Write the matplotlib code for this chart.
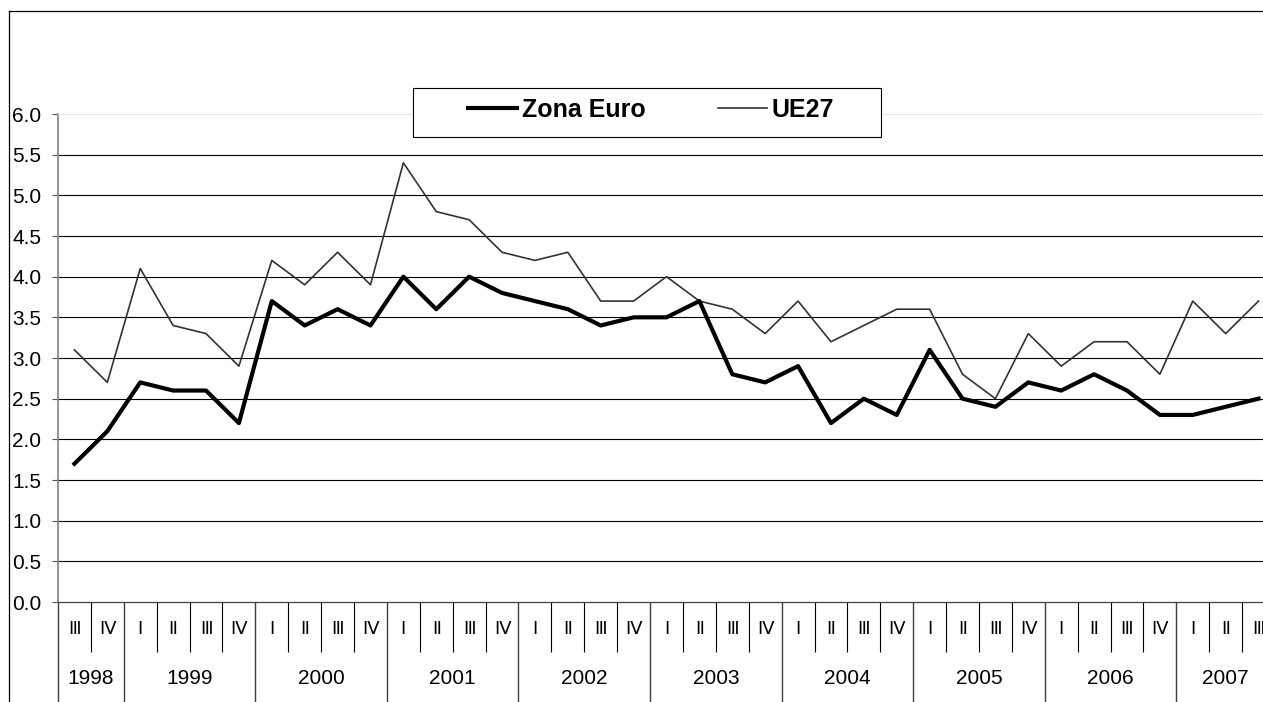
import numpy as np
import matplotlib
matplotlib.use("Agg")
import matplotlib.pyplot as plt
from matplotlib.lines import Line2D
from matplotlib.patches import Rectangle
import matplotlib.transforms as mtransforms

plt.rcParams['font.family'] = ['Liberation Sans', 'DejaVu Sans']

# dados (taxa de variação, %)
anos = ['1998', '1999', '2000', '2001', '2002', '2003', '2004', '2005', '2006', '2007']
n_trimestres = [2, 4, 4, 4, 4, 4, 4, 4, 4, 3]
trimestres = ['Ⅲ', 'Ⅳ',
              'Ⅰ', 'Ⅱ', 'Ⅲ', 'Ⅳ', 'Ⅰ', 'Ⅱ', 'Ⅲ', 'Ⅳ', 'Ⅰ', 'Ⅱ', 'Ⅲ', 'Ⅳ',
              'Ⅰ', 'Ⅱ', 'Ⅲ', 'Ⅳ', 'Ⅰ', 'Ⅱ', 'Ⅲ', 'Ⅳ', 'Ⅰ', 'Ⅱ', 'Ⅲ', 'Ⅳ',
              'Ⅰ', 'Ⅱ', 'Ⅲ', 'Ⅳ', 'Ⅰ', 'Ⅱ', 'Ⅲ', 'Ⅳ',
              'Ⅰ', 'Ⅱ', 'Ⅲ']
zona_euro = [1.7, 2.1,
             2.7, 2.6, 2.6, 2.2,
             3.7, 3.4, 3.6, 3.4,
             4.0, 3.6, 4.0, 3.8,
             3.7, 3.6, 3.4, 3.5,
             3.5, 3.7, 2.8, 2.7,
             2.9, 2.2, 2.5, 2.3,
             3.1, 2.5, 2.4, 2.7,
             2.6, 2.8, 2.6, 2.3,
             2.3, 2.4, 2.5]
ue27 = [3.1, 2.7,
        4.1, 3.4, 3.3, 2.9,
        4.2, 3.9, 4.3, 3.9,
        5.4, 4.8, 4.7, 4.3,
        4.2, 4.3, 3.7, 3.7,
        4.0, 3.7, 3.6, 3.3,
        3.7, 3.2, 3.4, 3.6,
        3.6, 2.8, 2.5, 3.3,
        2.9, 3.2, 3.2, 2.8,
        3.7, 3.3, 3.7]
y_ticks = [0.0, 0.5, 1.0, 1.5, 2.0, 2.5, 3.0, 3.5, 4.0, 4.5, 5.0, 5.5, 6.0]

W, H = 1263, 702
fig = plt.figure(figsize=(W / 100, H / 100), dpi=100)
# a área do gráfico continua para lá da margem direita (imagem cortada)
ax = fig.add_axes([58 / W, 100 / H, 1217 / W, 488 / H])

x = np.arange(len(zona_euro))

# grelha horizontal
ax.hlines(y_ticks[1:-1], -0.5, len(x) - 0.5, colors='black', linewidth=0.8, zorder=1)

ax.plot(x, ue27, color='#333333', linewidth=1.2, label='UE27', zorder=3)
ax.plot(x, zona_euro, color='black', linewidth=3.0, label='Zona Euro', zorder=4)

ax.set_xlim(-0.5, len(x) - 0.5)
ax.set_ylim(0, 6)
ax.set_yticks(y_ticks)
ax.set_yticklabels([f"{v:.1f}" for v in y_ticks], fontsize=15)
ax.tick_params(axis='y', length=4, width=0.8, color='#555555', pad=8)

# separadores do eixo x: trimestres (curtos) e anos (longos)
limites_anos = np.concatenate([[0], np.cumsum(n_trimestres)]) - 0.5
ax.set_xticks(limites_anos)
ax.set_xticks(np.arange(len(x) + 1) - 0.5, minor=True)
ax.set_xticklabels([])
ax.tick_params(axis='x', which='major', direction='out', length=72, width=1.0, color='#404040')
ax.tick_params(axis='x', which='minor', direction='out', length=36, width=0.8, color='black')

for s in ['right']:
    ax.spines[s].set_visible(False)
ax.spines['top'].set_color('#e6e6e6')
ax.spines['top'].set_linewidth(0.8)
ax.spines['left'].set_color('#808080')
ax.spines['left'].set_linewidth(1.2)
ax.spines['bottom'].set_color('#404040')
ax.spines['bottom'].set_linewidth(0.9)

trans = mtransforms.blended_transform_factory(ax.transData, ax.transAxes)
for i, t in enumerate(trimestres):
    ax.text(x[i], -28 / 488, t, transform=trans, ha='center', va='center', fontsize=13)
centros = (limites_anos[:-1] + limites_anos[1:]) / 2
for c, a in zip(centros, anos):
    ax.text(c, -76 / 488, a, transform=trans, ha='center', va='center', fontsize=15)

# legenda
caixa = Rectangle((413 / W, 1 - 137 / H), 468 / W, 49 / H, transform=fig.transFigure,
                  facecolor='white', edgecolor='black', linewidth=0.8, zorder=5)
fig.add_artist(caixa)
h, l = ax.get_legend_handles_labels()
leg = fig.legend(h[::-1], l[::-1], loc='center', bbox_to_anchor=(651 / W, 1 - 110 / H),
                 ncol=2, frameon=False, handlelength=1.95, handletextpad=0.2,
                 columnspacing=2.9, prop={'weight': 'bold', 'size': 18})
leg.set_zorder(6)

# moldura exterior
fig.add_artist(Line2D([9 / W, 9 / W], [0, 1 - 11 / H], transform=fig.transFigure, color='black', linewidth=0.9))
fig.add_artist(Line2D([9 / W, 1], [1 - 11 / H, 1 - 11 / H], transform=fig.transFigure, color='black', linewidth=0.9))

fig.savefig("out.png", dpi=100)
